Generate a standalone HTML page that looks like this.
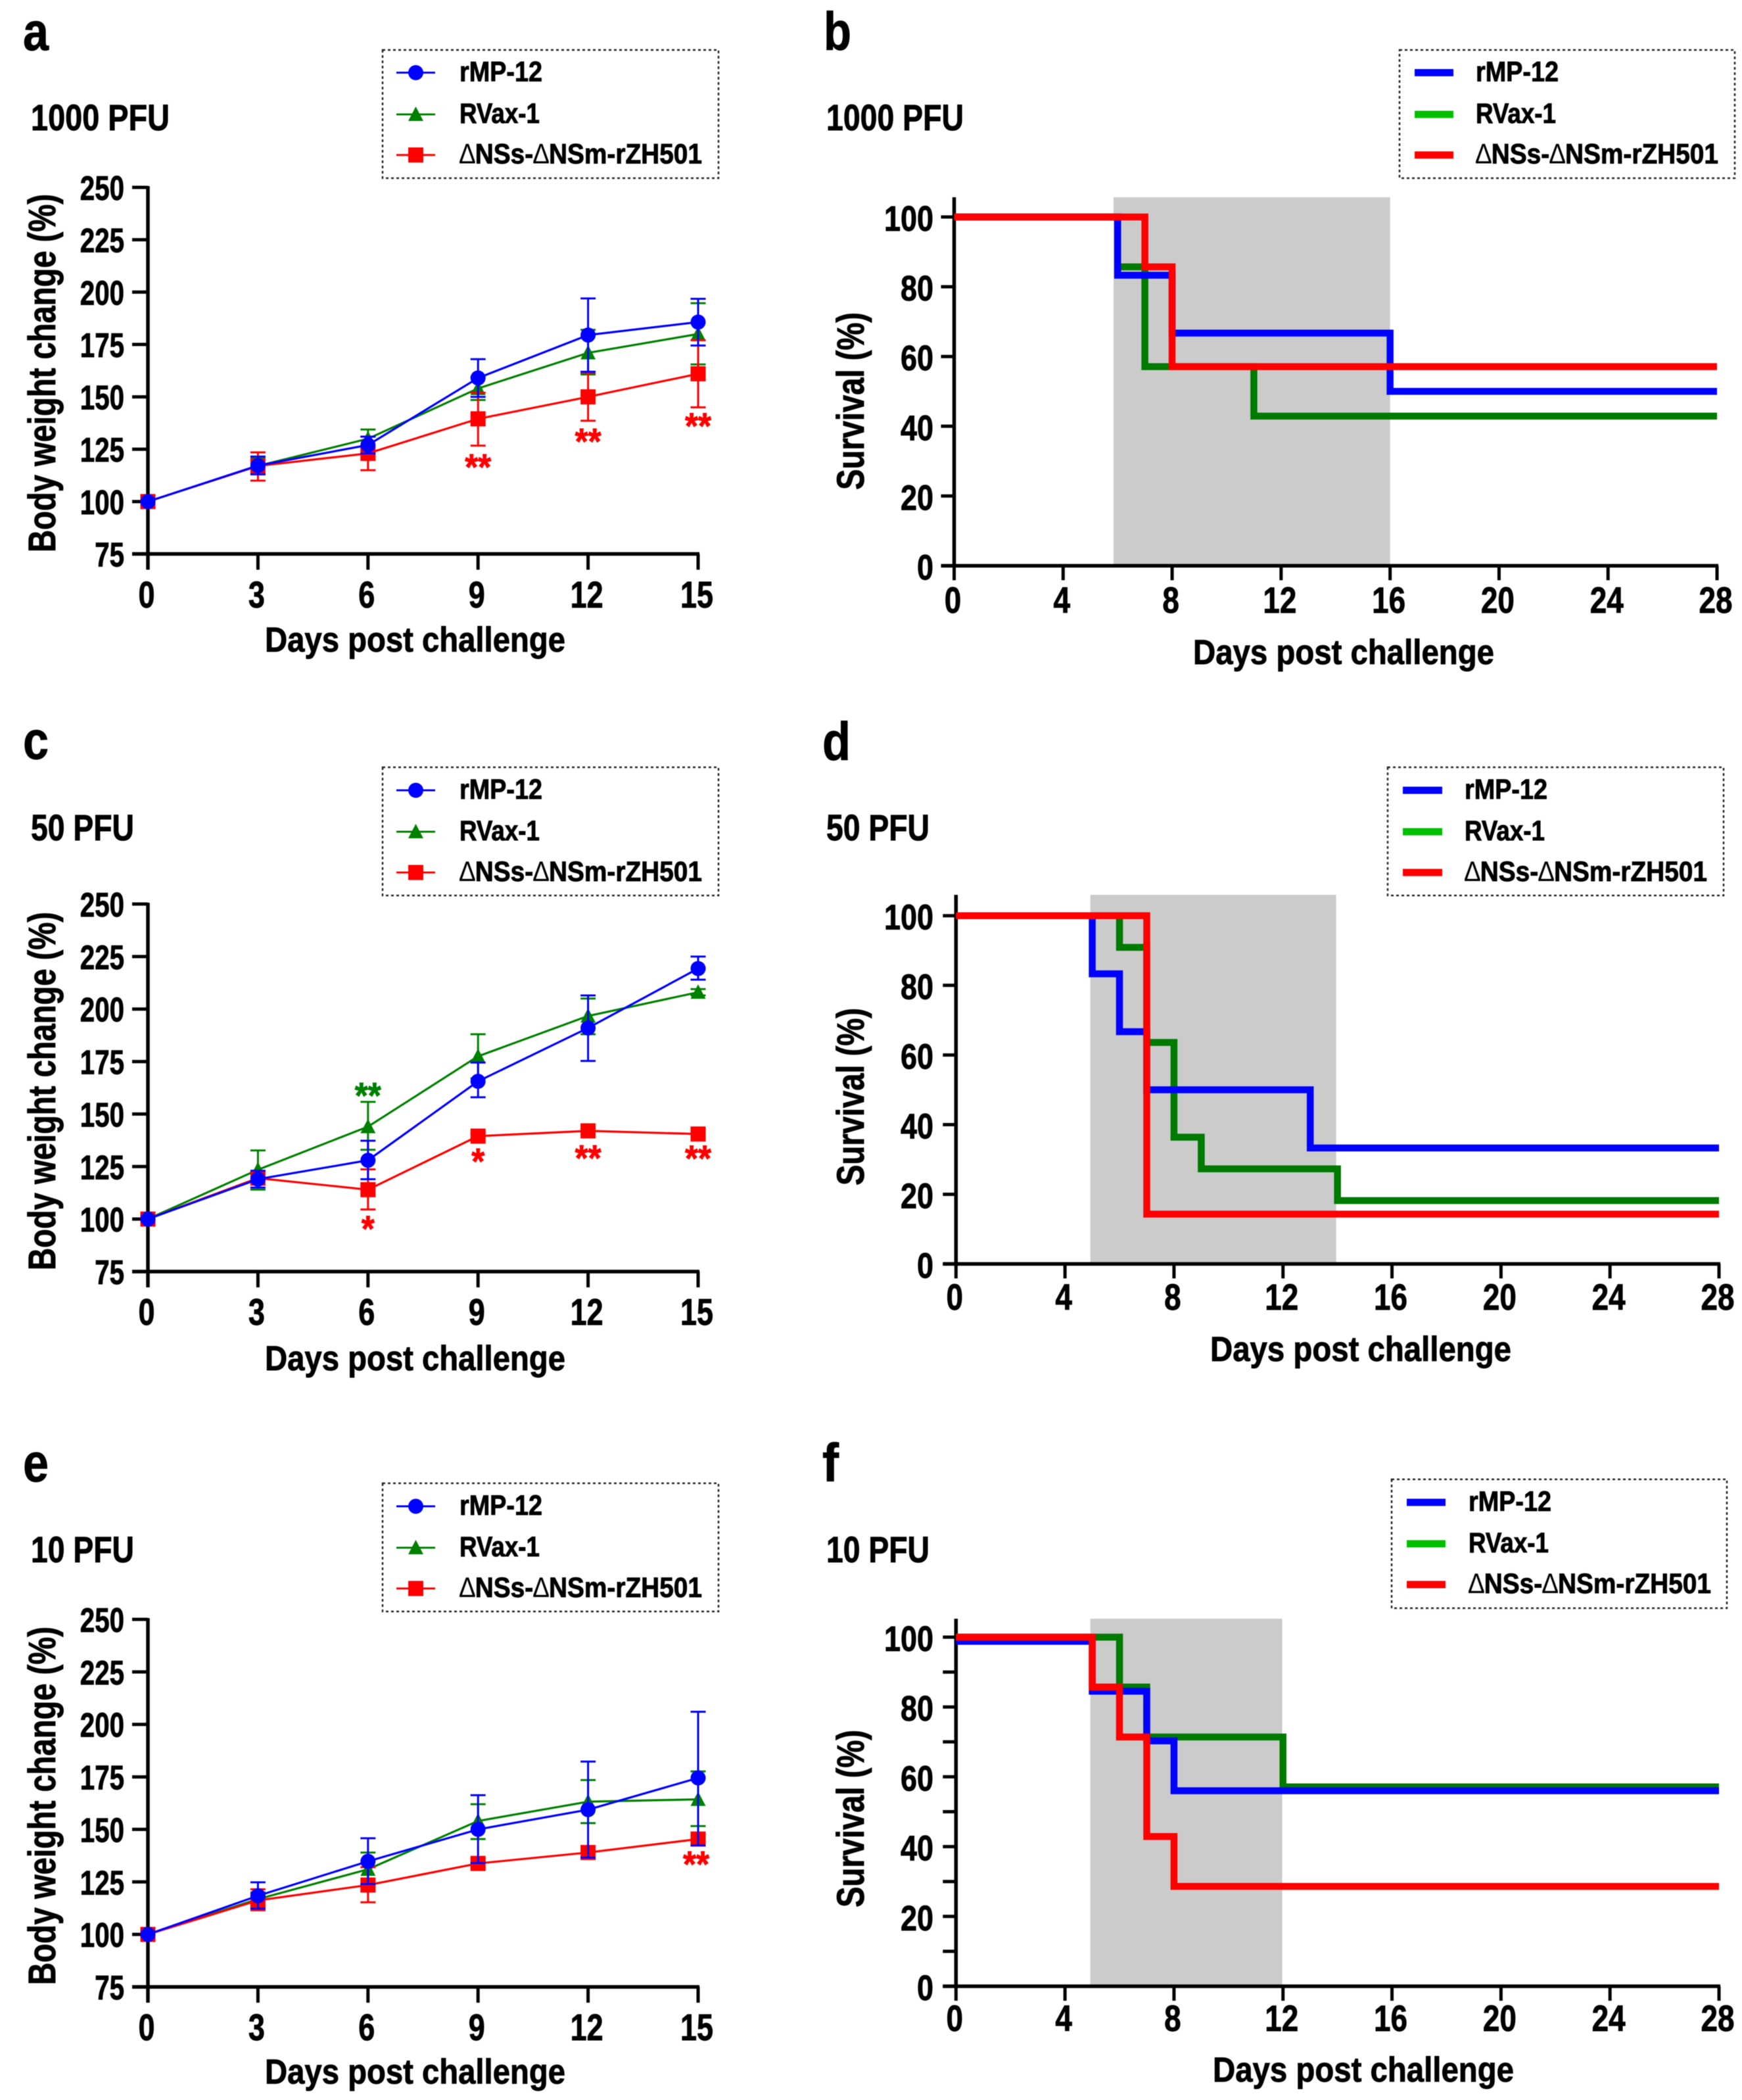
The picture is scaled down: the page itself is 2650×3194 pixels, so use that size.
<!DOCTYPE html>
<html lang="en">
<head>
<meta charset="utf-8">
<title>Body weight and survival after challenge</title>
<style>
html,body{margin:0;padding:0;background:#fff;}
svg{display:block;filter:blur(0.6px);}
text{font-family:"Liberation Sans",Arial,sans-serif;font-weight:700;}
</style>
</head>
<body>
<svg id="fig" xmlns="http://www.w3.org/2000/svg" width="2650" height="3194" viewBox="0 0 2650 3194">
<rect x="0" y="0" width="2650" height="3194" fill="#ffffff"></rect>
</svg>
<script>
const weightDays = [0, 3, 6, 9, 12, 15];
const weightYTicks = [75, 100, 125, 150, 175, 200, 225, 250];
const survivalXTicks = [0, 4, 8, 12, 16, 20, 24, 28];
const survivalYTicks = [0, 20, 40, 60, 80, 100];
const survivalMinorYTicks = [10, 30, 50, 70, 90];

const aBlueMean = [100, 117.2, 127, 159, 179.5, 185.7];
const aBlueUpper = [100, 121.5, 131, 168, 197, 196.8];
const aBlueLower = [100, 113, 123, 150, 162, 174.5];
const aGreenMean = [100, 117, 130, 154, 171, 180];
const aGreenUpper = [100, 121, 134.4, 159.5, 182, 194.7];
const aGreenLower = [100, 113, 125.6, 148.5, 160.7, 165.5];
const aRedMean = [100, 117, 123, 139.5, 150, 161];
const aRedUpper = [100, 123.5, 131, 152, 161.5, 177];
const aRedLower = [100, 110, 115, 126.7, 138.6, 145];
const aStarDays = [9, 12, 15];
const aStarValues = [118.7, 130.9, 138.2];
const aStarLabels = ["**", "**", "**"];
const aStarTones = ["#ff0000", "#ff0000", "#ff0000"];

const cBlueMean = [100, 119, 128, 165.6, 191, 219.3];
const cBlueUpper = [100, 123, 137.3, 174.5, 206.5, 225];
const cBlueLower = [100, 115, 119, 158, 175.3, 214];
const cGreenMean = [100, 123.5, 144, 177.5, 196.7, 208];
const cGreenUpper = [100, 132.7, 155.8, 188, 205, 209.5];
const cGreenLower = [100, 114, 133, 167, 188, 206.5];
const cRedMean = [100, 119.5, 114, 139.5, 142, 140.5];
const cRedUpper = [100, 122.5, 123.7, 141, 143.5, 142];
const cRedLower = [100, 116.5, 104.6, 138, 140.5, 139];
const cStarDays = [6, 6, 9, 12, 15];
const cStarValues = [161, 97.5, 129.6, 131.2, 131];
const cStarLabels = ["**", "*", "*", "**", "**"];
const cStarTones = ["#008000", "#ff0000", "#ff0000", "#ff0000", "#ff0000"];

const eBlueMean = [100, 118.4, 134.8, 150, 159.4, 174.5];
const eBlueUpper = [100, 124.8, 145.8, 166.3, 182.3, 206];
const eBlueLower = [100, 112.3, 124, 134, 136.6, 142.4];
const eGreenMean = [100, 116.8, 131, 154, 163.2, 164.3];
const eGreenUpper = [100, 120, 139, 162, 173.5, 177.6];
const eGreenLower = [100, 113.5, 123, 145.4, 153, 151.6];
const eRedMean = [100, 116.2, 123.5, 133.8, 139, 145.4];
const eRedUpper = [100, 121.5, 132, 136, 142, 147.5];
const eRedLower = [100, 111.5, 115.3, 131.5, 136, 143.3];
const eStarDays = [15];
const eStarValues = [135.6];
const eStarLabels = ["**"];
const eStarTones = ["#ff0000"];

const bBlueDays = [0, 6, 8, 16, 28];
const bBlueLevels = [100, 83.3, 66.7, 50, 50];
const bGreenDays = [0, 6, 7, 11, 28];
const bGreenLevels = [100, 85.7, 57.1, 42.9, 42.9];
const bRedDays = [0, 7, 8, 28];
const bRedLevels = [100, 85.7, 57.1, 57.1];

const dBlueDays = [0, 5, 6, 7, 13, 28];
const dBlueLevels = [100, 83.3, 66.7, 50, 33.3, 33.3];
const dGreenDays = [0, 6, 7, 8, 9, 14, 28];
const dGreenLevels = [100, 90.9, 63.6, 36.4, 27.3, 18.2, 18.2];
const dRedDays = [0, 7, 28];
const dRedLevels = [100, 14.3, 14.3];

const fBlueDays = [0, 5, 7, 8, 28];
const fBlueLevels = [98.8, 84.5, 70.3, 56, 56];
const fGreenDays = [0, 6, 7, 12, 28];
const fGreenLevels = [100, 85.7, 71.4, 57.1, 57.1];
const fRedDays = [0, 5, 6, 7, 8, 28];
const fRedLevels = [100, 85.7, 71.4, 42.9, 28.6, 28.6];

const NS = 'http://www.w3.org/2000/svg';
const BLUE = '#0000ff';
const GREEN = '#008000';
const RED = '#ff0000';

function shape(parent, tag, name, props) {
  const el = document.createElementNS(NS, tag);
  
  
  for (const k in props) el.setAttribute(k, props[k]);
  parent.appendChild(el);
  return el;
}
function group(parent, name) {
  return shape(parent, 'g', name, {});
}
function label(parent, name, str, x, y, size, width, tone) {
  const paint = tone || '#000';
  const el = shape(parent, 'text', name, {x: x, y: y, 'font-size': size, textLength: width, lengthAdjust: 'spacingAndGlyphs', fill: paint, stroke: paint, 'stroke-width': 0.9});
  str.split(/(\u2206)/).forEach(function (part) {
    if (!part) return;
    if (part === '\u2206') {
      const d = shape(el, 'tspan', 'delta-symbol', {'font-weight': 400, 'stroke-width': 0});
      d.textContent = part;
    } else {
      el.appendChild(document.createTextNode(part));
    }
  });
  return el;
}
function vLabel(parent, name, str, x, yBottom, size, length) {
  const el = shape(parent, 'text', name, {x: x, y: yBottom, 'font-size': size, textLength: length, lengthAdjust: 'spacingAndGlyphs', fill: '#000', stroke: '#000', 'stroke-width': 0.9, transform: 'rotate(-90 ' + x + ' ' + yBottom + ')'});
  el.textContent = str;
  return el;
}
function line(parent, name, x1, y1, x2, y2, tone, w) {
  return shape(parent, 'line', name, {x1: x1, y1: y1, x2: x2, y2: y2, stroke: tone, 'stroke-width': w});
}
function marker(parent, name, kind, x, y, tone) {
  if (kind === 'circle') return shape(parent, 'circle', name, {cx: x, cy: y, r: 11.5, fill: tone});
  if (kind === 'triangle') return shape(parent, 'polygon', name, {points: (x - 11.5) + ',' + (y + 10) + ' ' + x + ',' + (y - 12) + ' ' + (x + 11.5) + ',' + (y + 10), fill: tone});
  return shape(parent, 'rect', name, {x: x - 11.5, y: y - 11.5, width: 23, height: 23, fill: tone});
}
function legend(parent, cfg) {
  const g = group(parent, 'legend');
  shape(g, 'rect', 'legend-frame', {x: cfg.x, y: cfg.y, width: cfg.w, height: cfg.h, fill: 'none', stroke: '#222', 'stroke-width': 2.5, 'stroke-dasharray': '4 4'});
  const names = ['rMP-12', 'RVax-1', '\u2206NSs-\u2206NSm-rZH501'];
  const widths = [126, 122, 369];
  const kinds = ['circle', 'triangle', 'square'];
  const slugs = ['rmp-12', 'rvax-1', 'dnss-dnsm-rzh501'];
  const tones = cfg.swatch ? [BLUE, '#00c000', RED] : [BLUE, GREEN, RED];
  names.forEach(function (n, i) {
    const e = group(g, 'legend-entry-' + slugs[i]);
    const y = cfg.rows[i];
    line(e, 'legend-line', cfg.lineX, y, cfg.lineX + cfg.lineW, y, tones[i], cfg.swatch ? 11 : 3);
    if (!cfg.swatch) marker(e, 'legend-marker', kinds[i], cfg.lineX + cfg.lineW / 2, y, tones[i]);
    label(e, 'legend-label', n, cfg.textX, y + 13, 43, widths[i]);
  });
}
function headings(parent, cfg) {
  label(parent, 'panel-letter', cfg.letter, cfg.letterX, cfg.letterY, 82, cfg.letterW);
  label(parent, 'dose-title', cfg.dose, cfg.doseX, cfg.doseY, 56, cfg.doseW);
}
function weightPanel(cfg) {
  const g = group(document.getElementById('fig'), 'panel-' + cfg.letter);
  headings(g, cfg);
  legend(g, cfg.legend);
  const px = function (d) { return cfg.x0 + (d - 0) / 15 * (cfg.x15 - cfg.x0); };
  const py = function (v) { return cfg.y75 + (v - 75) / 175 * (cfg.y250 - cfg.y75); };
  const ax = group(g, 'axes');
  line(ax, 'y-axis', cfg.x0, cfg.y250 - 2, cfg.x0, cfg.y75 + 24, '#000', 5.5);
  line(ax, 'x-axis', cfg.x0 - 24, cfg.y75, cfg.x15 + 2, cfg.y75, '#000', 5.5);
  weightYTicks.forEach(function (t) {
    line(ax, 'y-tick', cfg.x0 - 24, py(t), cfg.x0, py(t), '#000', 5);
    const s = String(t);
    const w = 22.4 * s.length;
    label(ax, 'y-tick-label', s, 189 - w, py(t) + 19, 52, w);
  });
  weightDays.forEach(function (d) {
    line(ax, 'x-tick', px(d), cfg.y75, px(d), cfg.y75 + 24, '#000', 5);
    const s = String(d);
    const w = 25 * s.length;
    label(ax, 'x-tick-label', s, px(d) - 2 - w / 2, cfg.tickY, 57, w);
  });
  label(ax, 'x-axis-title', 'Days post challenge', 403, cfg.xTitleY, 53, 457);
  vLabel(ax, 'y-axis-title', 'Body weight change (%)', 84, cfg.yTitleBottom, 58, 545);
  cfg.series.forEach(function (s) {
    const sg = group(g, 'series-' + s.slug);
    const pts = weightDays.map(function (d, i) { return px(d) + ',' + py(s.mean[i]); }).join(' ');
    weightDays.forEach(function (d, i) {
      if (s.upper[i] === s.lower[i]) return;
      const xx = px(d);
      line(sg, 'error-bar', xx, py(s.upper[i]), xx, py(s.lower[i]), s.tone, 3);
      line(sg, 'error-cap-upper', xx - 11.5, py(s.upper[i]), xx + 11.5, py(s.upper[i]), s.tone, 3);
      line(sg, 'error-cap-lower', xx - 11.5, py(s.lower[i]), xx + 11.5, py(s.lower[i]), s.tone, 3);
    });
    shape(sg, 'polyline', 'mean-line', {points: pts, fill: 'none', stroke: s.tone, 'stroke-width': 3.2});
    weightDays.forEach(function (d, i) {
      marker(sg, 'data-point', s.kind, px(d), py(s.mean[i]), s.tone);
    });
  });
  const sig = group(g, 'significance-marks');
  cfg.starDays.forEach(function (d, i) {
    const s = cfg.starLabels[i];
    const w = 20 * s.length;
    label(sig, 'significance-star', s, px(d) - w / 2 + (cfg.starShift || 0), py(cfg.starValues[i]) + 26, 56, w, cfg.starTones[i]);
  });
}
function survivalPanel(cfg) {
  const g = group(document.getElementById('fig'), 'panel-' + cfg.letter);
  headings(g, cfg);
  legend(g, cfg.legend);
  const px = function (d) { return cfg.x0 + d / 28 * (cfg.x28 - cfg.x0); };
  const py = function (v) { return cfg.y0 + v / 100 * (cfg.y100 - cfg.y0); };
  shape(g, 'rect', 'challenge-window-shading', {x: px(cfg.shadeFrom), y: cfg.top, width: px(cfg.shadeTo) - px(cfg.shadeFrom), height: cfg.y0 - cfg.top, fill: '#cbcbcb'});
  const ax = group(g, 'axes');
  line(ax, 'y-axis', cfg.x0, cfg.top, cfg.x0, cfg.y0 + 2, '#000', 5.5);
  line(ax, 'x-axis', cfg.x0 - 20, cfg.y0, cfg.x28 + 2, cfg.y0, '#000', 5.5);
  survivalYTicks.forEach(function (t) {
    line(ax, 'y-tick', cfg.x0 - 20, py(t), cfg.x0, py(t), '#000', 5);
    const s = String(t);
    const w = 25 * s.length;
    label(ax, 'y-tick-label', s, 1420 - w, py(t) + 21, 54, w);
  });
  if (cfg.minor) survivalMinorYTicks.forEach(function (t) {
    line(ax, 'y-minor-tick', cfg.x0 - 20, py(t), cfg.x0, py(t), '#000', 5);
  });
  survivalXTicks.forEach(function (d) {
    line(ax, 'x-tick', px(d), cfg.y0, px(d), cfg.y0 + 22, '#000', 5);
    const s = String(d);
    const w = 25.5 * s.length;
    label(ax, 'x-tick-label', s, px(d) - 2 - w / 2, cfg.tickY, 56, w);
  });
  label(ax, 'x-axis-title', 'Days post challenge', cfg.xTitleX, cfg.xTitleY, 53, 458);
  vLabel(ax, 'y-axis-title', 'Survival (%)', 1314, cfg.yTitleBottom, 58, 270);
  cfg.series.forEach(function (s) {
    let d = 'M' + px(s.days[0]) + ' ' + py(s.levels[0]);
    s.days.forEach(function (day, i) {
      if (i === 0) return;
      d += ' H' + px(day);
      d += ' V' + py(s.levels[i]);
    });
    shape(g, 'path', 'survival-curve-' + s.slug, {d: d, fill: 'none', stroke: s.tone, 'stroke-width': 10.5, 'stroke-linejoin': 'miter'});
  });
}

weightPanel({
  letter: 'a', letterX: 35, letterY: 76, letterW: 39,
  dose: '1000 PFU', doseX: 47, doseY: 198, doseW: 211,
  x0: 225, x15: 1062, y250: 285, y75: 842.5, tickY: 924, xTitleY: 991, yTitleBottom: 840,
  legend: {x: 582, y: 76, w: 511, h: 195, rows: [110.5, 174, 235.7], lineX: 603, lineW: 59, textX: 699},
  series: [
    {slug: 'rvax-1', kind: 'triangle', tone: GREEN, mean: aGreenMean, upper: aGreenUpper, lower: aGreenLower},
    {slug: 'dnss-dnsm-rzh501', kind: 'square', tone: RED, mean: aRedMean, upper: aRedUpper, lower: aRedLower},
    {slug: 'rmp-12', kind: 'circle', tone: BLUE, mean: aBlueMean, upper: aBlueUpper, lower: aBlueLower}
  ],
  starDays: aStarDays, starValues: aStarValues, starLabels: aStarLabels, starTones: aStarTones
});
weightPanel({
  letter: 'c', letterX: 35, letterY: 1154, letterW: 39,
  dose: '50 PFU', doseX: 47, doseY: 1278, doseW: 157,
  x0: 225, x15: 1062, y250: 1375, y75: 1934, tickY: 2015, xTitleY: 2084, yTitleBottom: 1932,
  legend: {x: 582, y: 1167, w: 511, h: 195, rows: [1202, 1265, 1327], lineX: 603, lineW: 59, textX: 699},
  series: [
    {slug: 'rvax-1', kind: 'triangle', tone: GREEN, mean: cGreenMean, upper: cGreenUpper, lower: cGreenLower},
    {slug: 'dnss-dnsm-rzh501', kind: 'square', tone: RED, mean: cRedMean, upper: cRedUpper, lower: cRedLower},
    {slug: 'rmp-12', kind: 'circle', tone: BLUE, mean: cBlueMean, upper: cBlueUpper, lower: cBlueLower}
  ],
  starDays: cStarDays, starValues: cStarValues, starLabels: cStarLabels, starTones: cStarTones
});
weightPanel({
  letter: 'e', letterX: 35, letterY: 2253, letterW: 39,
  dose: '10 PFU', doseX: 47, doseY: 2376, doseW: 157,
  x0: 225, x15: 1062, y250: 2463, y75: 3022, tickY: 3103, xTitleY: 3169, yTitleBottom: 3019,
  legend: {x: 582, y: 2256, w: 511, h: 195, rows: [2291, 2354, 2416], lineX: 603, lineW: 59, textX: 699},
  series: [
    {slug: 'rvax-1', kind: 'triangle', tone: GREEN, mean: eGreenMean, upper: eGreenUpper, lower: eGreenLower},
    {slug: 'dnss-dnsm-rzh501', kind: 'square', tone: RED, mean: eRedMean, upper: eRedUpper, lower: eRedLower},
    {slug: 'rmp-12', kind: 'circle', tone: BLUE, mean: eBlueMean, upper: eBlueUpper, lower: eBlueLower}
  ],
  starDays: eStarDays, starValues: eStarValues, starLabels: eStarLabels, starTones: eStarTones, starShift: -3
});
survivalPanel({
  letter: 'b', letterX: 1253, letterY: 76, letterW: 42,
  dose: '1000 PFU', doseX: 1257, doseY: 198, doseW: 209,
  x0: 1451.5, x28: 2612, y100: 330, y0: 860.5, top: 300, tickY: 932, xTitleX: 1815, xTitleY: 1010, yTitleBottom: 745,
  shadeFrom: 5.85, shadeTo: 16,
  legend: {x: 2129, y: 76, w: 510, h: 195, rows: [110.5, 174, 235.7], lineX: 2152, lineW: 59, textX: 2245, swatch: true},
  series: [
    {slug: 'rvax-1', tone: '#007a00', days: bGreenDays, levels: bGreenLevels},
    {slug: 'rmp-12', tone: BLUE, days: bBlueDays, levels: bBlueLevels},
    {slug: 'dnss-dnsm-rzh501', tone: RED, days: bRedDays, levels: bRedLevels}
  ]
});
survivalPanel({
  letter: 'd', letterX: 1251, letterY: 1156, letterW: 43,
  dose: '50 PFU', doseX: 1257, doseY: 1278, doseW: 157,
  x0: 1454.3, x28: 2615, y100: 1392.7, y0: 1922.4, top: 1361, tickY: 1992, xTitleX: 1841, xTitleY: 2070, yTitleBottom: 1803,
  shadeFrom: 4.93, shadeTo: 13.95,
  legend: {x: 2111, y: 1167, w: 511, h: 195, rows: [1202, 1265, 1327], lineX: 2134, lineW: 60, textX: 2228, swatch: true},
  series: [
    {slug: 'rvax-1', tone: '#007a00', days: dGreenDays, levels: dGreenLevels},
    {slug: 'rmp-12', tone: BLUE, days: dBlueDays, levels: dBlueLevels},
    {slug: 'dnss-dnsm-rzh501', tone: RED, days: dRedDays, levels: dRedLevels}
  ]
});
survivalPanel({
  letter: 'f', letterX: 1251, letterY: 2253, letterW: 25,
  dose: '10 PFU', doseX: 1257, doseY: 2376, doseW: 157,
  x0: 1454.3, x28: 2615, y100: 2490, y0: 3021, top: 2462, tickY: 3089, xTitleX: 1845, xTitleY: 3166, yTitleBottom: 2901, minor: true,
  shadeFrom: 4.93, shadeTo: 11.97,
  legend: {x: 2117, y: 2250, w: 510, h: 196, rows: [2285, 2348, 2410], lineX: 2140, lineW: 59, textX: 2234, swatch: true},
  series: [
    {slug: 'rvax-1', tone: '#007a00', days: fGreenDays, levels: fGreenLevels},
    {slug: 'rmp-12', tone: BLUE, days: fBlueDays, levels: fBlueLevels},
    {slug: 'dnss-dnsm-rzh501', tone: RED, days: fRedDays, levels: fRedLevels}
  ]
});
</script>
</body>
</html>
